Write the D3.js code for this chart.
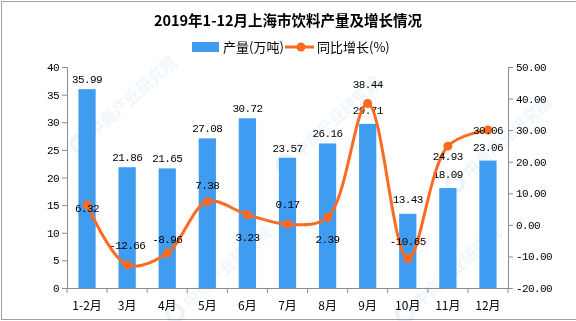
<!DOCTYPE html>
<html><head><meta charset="utf-8">
<script src="https://cdn.jsdelivr.net/npm/d3@7"></script>
<style>
html,body{margin:0;padding:0;background:#fff;}
svg{display:block;}
</style></head>
<body>
<svg id="chart" width="576" height="321"></svg>
<script>
const title = "2019年1-12月上海市饮料产量及增长情况";
const categories = ["1-2月","3月","4月","5月","6月","7月","8月","9月","10月","11月","12月"];
const production = [35.99,21.86,21.65,27.08,30.72,23.57,26.16,29.71,13.43,18.09,23.06];
const growth = [6.32,-12.66,-8.96,7.38,3.23,0.17,2.39,38.44,-10.65,24.93,30.06];
const leftTicks = [0,5,10,15,20,25,30,35,40];
const rightTicks = [-20,-10,0,10,20,30,40,50];
const seriesNames = ["产量(万吨)","同比增长(%)"];

// label offsets (style only)
const barLabelDy = [-6,-6,-6,-6,-6,-6,-6,-10,-11,-10,-10];
const lineLabelDy = [7,-16,-10,-13,26,-16,26,-15,-13,14,4];

const W=576,H=321;
const M={l:67,r:508,t:67,b:288};
const blue="#409cf0", orange="#ff6a22", axisCol="#8c8c8c";
const numFont="'Liberation Mono', monospace";
const cjk="'Noto Sans CJK SC', sans-serif";

const svg=d3.select("#chart");
svg.append("rect").attr("width",W).attr("height",H).attr("fill","#fff");

// watermarks (faint)
const wm=svg.append("g").attr("opacity",0.4);
[[95,130],[300,150],[470,170],[190,300],[420,300]].forEach(([x,y])=>{
  const g=wm.append("g").attr("transform",`translate(${x},${y}) rotate(-42)`);
  g.append("circle").attr("cx",-20).attr("cy",0).attr("r",8).attr("fill","none").attr("stroke","#cfe2f4").attr("stroke-width",4);
  g.append("text").attr("x",-6).attr("y",6).attr("font-family",cjk).attr("font-size",16).attr("font-weight",700)
   .attr("fill","#d7e8f6").text("中商产业研究院");
});

const x=d3.scaleBand().domain(categories).range([M.l,M.r]).padding(0);
const yL=d3.scaleLinear().domain([0,40]).range([M.b,M.t]);
const yR=d3.scaleLinear().domain([-20,50]).range([M.b,M.t]);
const barW=x.bandwidth()*0.43;
const cx=d=>x(d)+x.bandwidth()/2;

// bars
svg.append("g").selectAll("rect").data(production).join("rect")
  .attr("x",(d,i)=>cx(categories[i])-barW/2)
  .attr("y",d=>yL(d)).attr("width",barW).attr("height",d=>yL(0)-yL(d))
  .attr("fill",blue);

// axes
const axL=svg.append("g").attr("transform",`translate(${M.l},0)`)
  .call(d3.axisLeft(yL).tickValues(leftTicks).tickSize(5).tickPadding(3).tickFormat(d3.format("d")));
const axR=svg.append("g").attr("transform",`translate(${M.r},0)`)
  .call(d3.axisRight(yR).tickValues(rightTicks).tickSize(5).tickPadding(3).tickFormat(d=>d.toFixed(2)));
const axB=svg.append("g").attr("transform",`translate(0,${M.b})`)
  .call(d3.axisBottom(x).tickSize(0).tickPadding(13));
[axL,axR,axB].forEach(a=>{
  a.selectAll("path,line").attr("stroke",axisCol).attr("stroke-width",1);
  a.selectAll("text").attr("fill","#000");
});
[axL,axR].forEach(a=>a.selectAll("text").attr("font-family",numFont).attr("font-size",11).attr("letter-spacing","-0.6px"));
axB.selectAll("text").attr("font-family",cjk).attr("font-size",12);
// boundary ticks on category axis
const bounds=categories.map(c=>x(c)).concat([x.range()[1]]);
axB.selectAll("line.bnd").data(bounds).join("line").attr("class","bnd")
  .attr("x1",d=>d).attr("x2",d=>d).attr("y1",0).attr("y2",5).attr("stroke",axisCol);

// bar labels
svg.append("g").selectAll("text").data(production).join("text")
  .attr("x",(d,i)=>cx(categories[i])).attr("y",(d,i)=>yL(d)+barLabelDy[i])
  .attr("text-anchor","middle").attr("font-family",numFont).attr("font-size",11).attr("letter-spacing","-0.6px")
  .attr("fill","#000").text(d=>d.toFixed(2));

// line
const line=d3.line().x((d,i)=>cx(categories[i])).y(d=>yR(d)).curve(d3.curveCatmullRom.alpha(0.5));
svg.append("path").datum(growth).attr("d",line).attr("fill","none").attr("stroke",orange).attr("stroke-width",3);
svg.append("g").selectAll("circle").data(growth).join("circle")
  .attr("cx",(d,i)=>cx(categories[i])).attr("cy",d=>yR(d)).attr("r",4.5).attr("fill",orange);

// line labels
svg.append("g").selectAll("text").data(growth).join("text")
  .attr("x",(d,i)=>cx(categories[i])).attr("y",(d,i)=>yR(d)+lineLabelDy[i])
  .attr("text-anchor","middle").attr("font-family",numFont).attr("font-size",11).attr("letter-spacing","-0.6px")
  .attr("fill","#000").text(d=>d.toFixed(2));

// title
svg.append("text").attr("x",288).attr("y",26).attr("text-anchor","middle")
  .attr("font-family",cjk).attr("font-weight",700).attr("font-size",14.5).attr("fill","#000").text(title);

// legend
const lg=svg.append("g");
lg.append("rect").attr("x",192).attr("y",42).attr("width",27).attr("height",10).attr("fill",blue);
lg.append("text").attr("x",223).attr("y",52).attr("font-family",cjk).attr("font-size",13).attr("fill","#000").text(seriesNames[0]);
lg.append("line").attr("x1",285).attr("x2",314).attr("y1",47).attr("y2",47).attr("stroke",orange).attr("stroke-width",3);
lg.append("circle").attr("cx",301).attr("cy",47).attr("r",4.5).attr("fill",orange);
lg.append("text").attr("x",317).attr("y",52).attr("font-family",cjk).attr("font-size",13).attr("fill","#000").text(seriesNames[1]);

// frame
svg.append("rect").attr("x",1.5).attr("y",1.5).attr("width",590).attr("height",318)
  .attr("fill","none").attr("stroke","#a0a0a0").attr("stroke-width",1);
</script>
</body></html>
